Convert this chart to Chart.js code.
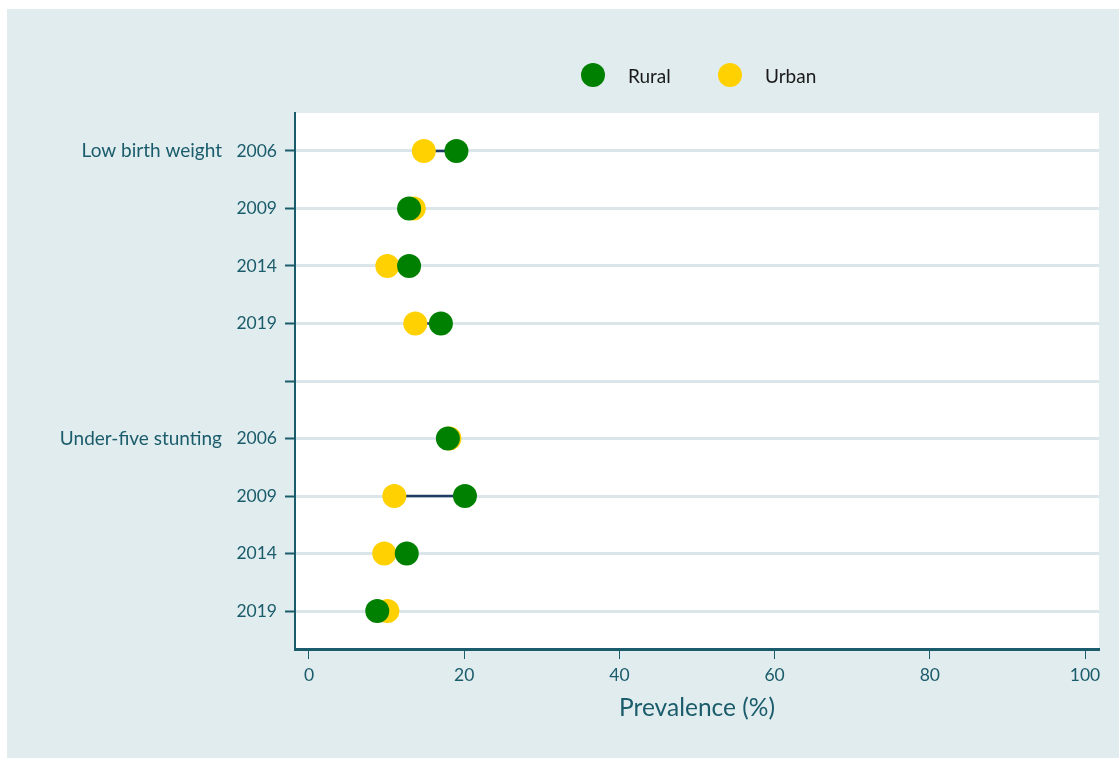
<!DOCTYPE html>
<html>
<head>
<meta charset="utf-8">
<script src="https://cdn.jsdelivr.net/npm/chart.js@4.4.1/dist/chart.umd.min.js"></script>
<style>
  html, body { margin: 0; padding: 0; background: #ffffff; }
  #panel {
    position: absolute; left: 7px; top: 9px; width: 1112px; height: 749px;
    background: #e1ecee;
  }
  #chart { position: absolute; left: 0; top: 0; }
  .legend {
    position: absolute; top: 63px; height: 24px;
    font-family: Lato, sans-serif; font-size: 19px; color: #1a1a1a;
    display: flex; align-items: center;
  }
  .legend .dot { width: 24px; height: 24px; border-radius: 50%; margin-right: 23px; }
</style>
</head>
<body>
<div id="panel"></div>
<canvas id="chart" width="1119" height="758"></canvas>
<div class="legend" style="left:581px"><span class="dot" style="background:#008000"></span>Rural</div>
<div class="legend" style="left:718px"><span class="dot" style="background:#ffd100"></span>Urban</div>
<script>
// rows top to bottom; row 4 is the empty spacer between the two indicators
const rowLabels = ['2006', '2009', '2014', '2019', '', '2006', '2009', '2014', '2019'];
const groupLabels = ['Low birth weight', 'Under-five stunting'];
const groupRows = [0, 5];

const lbwRows = [0, 1, 2, 3];
const ruralLBW = [19.0, 12.9, 12.9, 17.0];
const urbanLBW = [14.8, 13.5, 10.1, 13.7];

const stuntRows = [5, 6, 7, 8];
const ruralStunting = [17.9, 20.1, 12.6, 8.8];
const urbanStunting = [18.1, 11.0, 9.7, 10.1];

const xTicks = [0, 20, 40, 60, 80, 100];

const TEAL = '#1a5c6b';
const FONT = 'Lato, sans-serif';

const rows = lbwRows.concat(stuntRows);
const rural = ruralLBW.concat(ruralStunting);
const urban = urbanLBW.concat(urbanStunting);

const points = (vals) => vals.map((v, i) => ({ x: v, y: rows[i] }));

// one small connector per row, urban -> rural
const connectors = rows.map((r, i) => ({
    data: [{ x: urban[i], y: r }, { x: rural[i], y: r }],
    showLine: true,
    borderColor: '#1f3c64',
    borderWidth: 2.5,
    pointRadius: 0,
    order: 2
}));

const plotBackground = {
    id: 'plotBackground',
    beforeDraw(chart) {
        const { ctx, chartArea: a } = chart;
        ctx.save();
        ctx.fillStyle = '#ffffff';
        ctx.fillRect(a.left, a.top, a.right - a.left, a.bottom - a.top);
        ctx.restore();
    }
};

const groupText = {
    id: 'groupText',
    afterDraw(chart) {
        const { ctx } = chart;
        const y = chart.scales.y;
        ctx.save();
        ctx.fillStyle = TEAL;
        ctx.font = '19px ' + FONT;
        ctx.textAlign = 'right';
        ctx.textBaseline = 'middle';
        groupLabels.forEach((g, i) => {
            ctx.fillText(g, 222, y.getPixelForValue(groupRows[i]));
        });
        ctx.restore();
    }
};

new Chart(document.getElementById('chart'), {
    type: 'scatter',
    data: {
        datasets: [
            {
                label: 'Rural',
                data: points(rural),
                backgroundColor: '#008000',
                borderWidth: 0,
                pointRadius: 12,
                order: 0
            },
            {
                label: 'Urban',
                data: points(urban),
                backgroundColor: '#ffd100',
                borderWidth: 0,
                pointRadius: 12,
                order: 1
            },
            ...connectors
        ]
    },
    options: {
        responsive: false,
        animation: false,
        devicePixelRatio: 1,
        events: [],
        layout: { padding: { left: 0, top: 113, right: 20, bottom: 0 } },
        plugins: {
            legend: { display: false },
            tooltip: { enabled: false }
        },
        scales: {
            x: {
                min: -1.8,
                max: 101.8,
                afterBuildTicks: (s) => { s.ticks = xTicks.map(v => ({ value: v })); },
                afterFit: (s) => { s.height = 109; },
                border: { color: TEAL, width: 3 },
                grid: {
                    drawOnChartArea: false,
                    tickLength: 10,
                    tickColor: TEAL,
                    tickWidth: 1
                },
                ticks: {
                    color: TEAL,
                    font: { family: FONT, size: 17.5 },
                    padding: 6
                },
                title: {
                    display: true,
                    text: 'Prevalence (%)',
                    color: TEAL,
                    font: { family: FONT, size: 24.5 },
                    padding: { top: 0, bottom: 35 }
                }
            },
            y: {
                reverse: true,
                min: -0.66,
                max: 8.66,
                afterBuildTicks: (s) => { s.ticks = rowLabels.map((_, i) => ({ value: i })); },
                afterFit: (s) => { s.width = 295; },
                border: { color: TEAL, width: 2 },
                grid: {
                    color: '#dbe6ea',
                    lineWidth: 3,
                    tickLength: 10,
                    tickColor: TEAL,
                    tickWidth: 2
                },
                ticks: {
                    color: TEAL,
                    font: { family: FONT, size: 17.5 },
                    padding: 8,
                    callback: (v) => rowLabels[v]
                }
            }
        }
    },
    plugins: [plotBackground, groupText]
});
</script>
</body>
</html>
